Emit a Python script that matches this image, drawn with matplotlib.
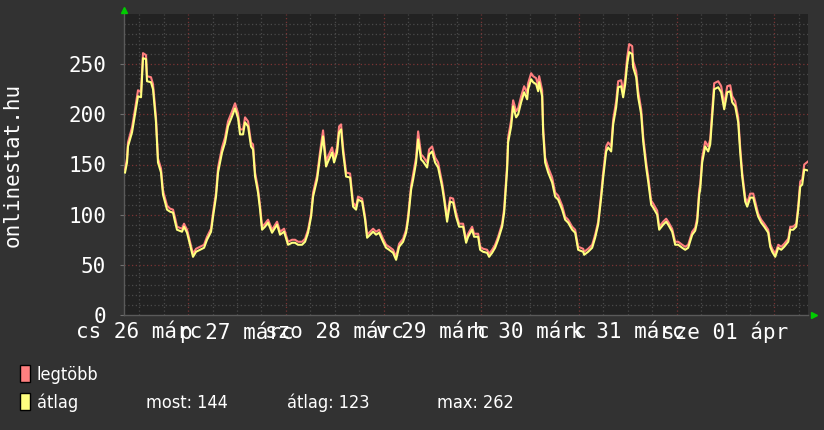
import matplotlib
matplotlib.use("Agg")
import matplotlib.pyplot as plt
from matplotlib import font_manager as fm
from matplotlib.patches import Rectangle

# hours since 2015-03-26 08:15 (one week window)
hours = [0.25, 0.74, 0.98, 1.97, 2.70, 3.44, 4.18, 4.67, 5.41, 5.65,
         6.63, 7.13, 7.86, 8.35, 9.09, 9.58, 10.57, 11.30, 12.04, 12.53,
         13.02, 14.25, 14.74, 15.48, 16.22, 16.95, 17.69, 18.67, 19.66, 20.39,
         21.38, 21.87, 22.60, 23.10, 24.08, 24.82, 25.55, 26.54, 27.27, 28.01,
         28.50, 29.24, 29.73, 30.47, 31.20, 31.70, 32.19, 32.92, 33.42, 33.91,
         34.64, 35.38, 36.36, 37.59, 38.33, 39.31, 40.29, 41.28, 42.01, 42.75,
         43.73, 44.47, 45.21, 45.95, 46.44, 47.42, 48.16, 48.89, 49.63, 50.12,
         51.11, 51.60, 52.33, 52.83, 53.32, 53.81, 54.55, 55.53, 56.27,
         57.00, 57.49, 58.48, 59.21, 59.71, 60.44, 61.18, 61.92, 62.65, 63.64,
         64.37, 65.11, 66.09, 66.83, 67.57, 68.55, 69.29, 69.78, 70.52, 71.01,
         71.74, 72.24, 72.97, 73.46, 74.45, 74.94, 75.68, 76.41, 77.15, 78.13,
         78.62, 79.36, 80.10, 80.84, 81.57, 82.31, 83.29, 84.03, 84.52,
         85.50, 85.99, 86.98, 87.47, 88.21, 89.19, 89.68, 90.42, 91.15, 91.89,
         92.87, 93.37, 94.10, 94.35, 95.09, 95.58, 96.31, 96.81, 97.54, 98.28,
         99.02, 99.26, 100.00, 100.49, 101.23, 101.72, 101.97, 102.70, 102.95, 103.44,
         104.18, 105.16, 105.90, 106.63, 107.62, 108.35, 109.09, 110.07, 110.81, 111.55,
         112.78,
         113.02, 114.00, 114.99, 115.72, 116.46, 117.20, 117.69, 118.43, 118.92, 119.66,
         120.15, 120.88, 121.38, 122.11, 122.60, 123.10, 123.59, 124.08, 124.82, 125.06,
         125.80, 126.29, 127.03, 127.52, 128.26, 128.75, 129.48, 129.98, 130.96, 131.45,
         132.43, 133.17, 133.66, 134.64, 135.38, 136.12, 137.10, 137.84, 138.57, 139.56,
         140.29, 140.79, 141.28,
         141.52, 142.01, 142.75, 143.49, 143.98, 144.47, 144.96, 145.95, 146.68, 147.42,
         148.16, 148.89, 149.39, 150.12, 150.86, 151.35, 151.84, 152.58, 153.07, 153.81,
         154.55, 155.28, 155.77, 156.51, 157.25, 158.23, 158.72, 159.21, 159.95, 160.69,
         161.43, 162.16, 163.15, 163.64, 164.37, 165.11, 165.60, 166.09, 166.58, 167.08,
         168.0]

atlag = [142, 152, 168, 182, 200, 218, 217, 256, 255, 233,
         232, 225, 192, 152, 142, 120, 105, 103, 102, 93,
         85, 83, 88, 82, 70, 58, 63, 65, 67, 75,
         83, 98, 118, 142, 162, 172, 188, 198, 206, 196,
         180, 180, 192, 188, 168, 165, 138, 122, 105, 85,
         88, 92, 82, 90, 80, 83, 70, 72, 72, 70,
         70, 73, 82, 98, 118, 135, 158, 178, 148, 153,
         162, 152, 162, 182, 185, 162, 138, 137, 108,
         105, 115, 113, 95, 77, 80, 83, 80, 82, 73,
         67, 65, 62, 55, 68, 73, 82, 95, 125, 135,
         152, 175, 155, 153, 147, 160, 163, 152, 147, 128,
         115, 93, 113, 112, 98, 88, 88, 72, 78,
         85, 78, 78, 65, 63, 62, 58, 62, 67, 75,
         88, 102, 145, 172, 188, 208, 197, 200, 212, 222,
         215, 225, 235, 232, 230, 223, 232, 218, 182, 152,
         142, 132, 118, 115, 105, 95, 92, 85, 82, 65,
         63,
         60, 63, 67, 77, 90, 117, 137, 163, 167, 163,
         190, 207, 227, 228, 217, 230, 250, 262, 260, 247,
         237, 217, 200, 173, 147, 133, 110, 107, 100, 85,
         90, 93, 90, 83, 70, 70, 67, 65, 67, 80,
         84, 93, 120,
         125, 152, 168, 163, 170, 198, 225, 227, 222, 205,
         222, 223, 212, 208, 192, 162, 138, 113, 108, 117,
         117, 105, 98, 92, 88, 82, 68, 63, 58, 67,
         65, 68, 73, 85, 85, 88, 105, 128, 130, 145,
         144]

legtobb = [145, 156, 172, 187, 205, 224, 222, 261, 259, 238,
           237, 230, 197, 156, 146, 124, 109, 106, 105, 97,
           88, 86, 91, 85, 73, 61, 66, 68, 70, 78,
           86, 102, 122, 147, 167, 177, 193, 203, 211, 201,
           185, 185, 197, 193, 172, 170, 142, 126, 109, 88,
           91, 95, 85, 93, 83, 86, 73, 75, 75, 73,
           73, 76, 85, 101, 122, 139, 163, 184, 153, 158,
           167, 156, 167, 188, 190, 167, 142, 141, 112,
           108, 118, 116, 98, 80, 83, 86, 83, 85, 76,
           70, 68, 65, 58, 71, 76, 85, 99, 129, 140,
           157, 183, 160, 158, 152, 165, 168, 157, 152, 132,
           119, 97, 117, 116, 102, 91, 91, 75, 81,
           88, 81, 81, 68, 66, 65, 61, 65, 70, 78,
           91, 106, 150, 177, 194, 214, 203, 206, 218, 228,
           221, 231, 241, 238, 236, 229, 238, 224, 187, 157,
           147, 137, 122, 119, 109, 98, 95, 88, 85, 68,
           66,
           63, 66, 70, 80, 93, 121, 142, 168, 172, 168,
           195, 213, 233, 234, 223, 236, 257, 270, 268, 253,
           243, 223, 205, 178, 152, 138, 114, 111, 104, 88,
           93, 96, 93, 86, 73, 73, 70, 68, 70, 83,
           87, 97, 125,
           130, 157, 173, 168, 175, 204, 231, 233, 228, 210,
           228, 229, 218, 213, 197, 167, 142, 117, 112, 121,
           121, 109, 101, 95, 91, 85, 71, 66, 61, 70,
           68, 71, 76, 88, 88, 91, 109, 133, 135, 150,
           153]

day_labels = ["cs 26 márc", "p 27 márc", "szo 28 márc", "v 29 márc",
              "h 30 márc", "k 31 márc", "sze 01 ápr"]
y_ticks = [0, 50, 100, 150, 200, 250]

BG = "#323232"
CANVAS = "#222222"
MONO = "DejaVu Sans Mono"

# pick a narrow face for the legend if one is installed
legend_font = None
for f in fm.fontManager.ttflist:
    if f.name == "Liberation Sans Narrow" and f.style == "normal" and f.weight in (400, "normal"):
        legend_font = fm.FontProperties(fname=f.fname, size=15)
        break
if legend_font is None:
    for f in fm.fontManager.ttflist:
        if f.name in ("DejaVu Sans", "DejaVu Sans Mono") and "ondensed" in f.fname \
                and "Bold" not in f.fname and "Oblique" not in f.fname:
            legend_font = fm.FontProperties(fname=f.fname, size=13)
            break
if legend_font is None:
    legend_font = fm.FontProperties(family=MONO, size=10.5)

fig = plt.figure(figsize=(8.24, 4.30), dpi=100, facecolor=BG)
ax = fig.add_axes([124 / 824, 115 / 430, 684 / 824, 301 / 430], facecolor=CANVAS)

# grid: minor every 10 / 6h grey, major every 50 / midnight red
for v in range(10, 300, 10):
    col = "#7a3535" if v % 50 == 0 else "#4a4a4a"
    ax.axhline(v, color=col, lw=0.9, ls=(0, (1, 2)), zorder=1)
first_midnight = 15.75
h = first_midnight - 12
while h < 168:
    col = "#7a3535" if abs((h - first_midnight) % 24) < 0.01 else "#4a4a4a"
    ax.axvline(h, color=col, lw=0.9, ls=(0, (1, 2)), zorder=1)
    h += 6

ax.plot(hours, legtobb, color="#ff7f7f", lw=1.5, zorder=3)
ax.plot(hours, atlag, color="#ffff7f", lw=1.5, zorder=4)

ax.set_xlim(0, 168)
ax.set_ylim(0, 300)
ax.set_yticks(y_ticks)
ax.set_yticklabels([str(v) for v in y_ticks], family=MONO, fontsize=15, color="white")
noons = [first_midnight - 12 + 24 * i for i in range(len(day_labels))]
ax.set_xticks(noons)
ax.set_xticklabels(day_labels, family=MONO, fontsize=15, color="white")
ax.tick_params(axis="x", length=0, pad=5)
ax.tick_params(axis="y", length=3, color="#707070", pad=10)
for s in ["top", "right"]:
    ax.spines[s].set_visible(False)
for s in ["left", "bottom"]:
    ax.spines[s].set_color("#5a5a5a")
    ax.spines[s].set_linewidth(1)

# green arrows at axis ends
ax.plot([0], [1.012], marker="^", color="#00cc00", ms=5, transform=ax.transAxes,
        clip_on=False, zorder=6)
ax.plot([1.009], [0], marker=">", color="#00cc00", ms=5, transform=ax.transAxes,
        clip_on=False, zorder=6)

fig.text(12.5 / 824, 1 - 165 / 430, "onlinestat.hu", rotation=90, family=MONO,
         fontsize=15, color="white", ha="center", va="center")

# legend
fig.patches.append(Rectangle((20 / 824, 1 - 382 / 430), 10 / 824, 17 / 430,
                             transform=fig.transFigure, facecolor="#ff7f7f",
                             edgecolor="black", lw=1))
fig.patches.append(Rectangle((20 / 824, 1 - 410 / 430), 10 / 824, 17 / 430,
                             transform=fig.transFigure, facecolor="#ffff7f",
                             edgecolor="black", lw=1))
fig.text(37 / 824, 1 - 380 / 430, "legtöbb", fontproperties=legend_font,
         color="white", va="baseline")
fig.text(37 / 824, 1 - 408 / 430, "átlag", fontproperties=legend_font,
         color="white", va="baseline")
fig.text(146 / 824, 1 - 408 / 430, "most: 144", fontproperties=legend_font,
         color="white", va="baseline")
fig.text(287 / 824, 1 - 408 / 430, "átlag: 123", fontproperties=legend_font,
         color="white", va="baseline")
fig.text(437 / 824, 1 - 408 / 430, "max: 262", fontproperties=legend_font,
         color="white", va="baseline")

fig.savefig("out.png", dpi=100, facecolor=BG)
